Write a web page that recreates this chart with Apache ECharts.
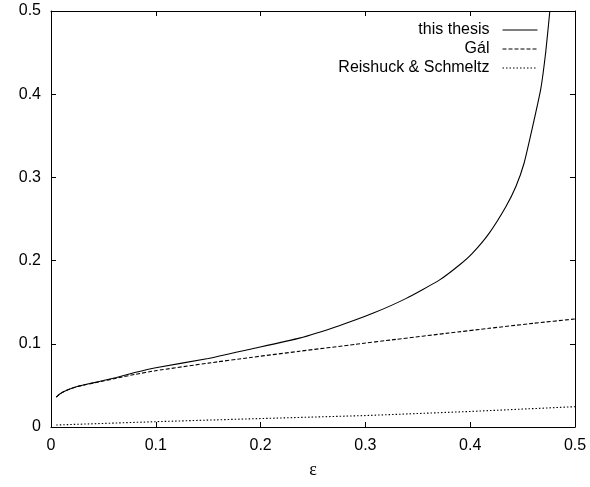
<!DOCTYPE html>
<html>
<head>
<meta charset="utf-8">
<script src="https://cdn.jsdelivr.net/npm/echarts@6/dist/echarts.min.js"></script>
<style>html,body{margin:0;padding:0;background:#fff}#c{width:590px;height:487px}</style>
</head>
<body>
<div id="c"></div>
<script>
var seriesNames = ['this thesis', 'Gál', 'Reishuck & Schmeltz'];
var xTicks = [0, 0.1, 0.2, 0.3, 0.4, 0.5];
var yTicks = [0, 0.1, 0.2, 0.3, 0.4, 0.5];
var xName = 'ε';

var thesisX = [0.005, 0.008, 0.012, 0.018, 0.025, 0.032, 0.040, 0.050, 0.0625, 0.080, 0.100, 0.150, 0.190, 0.237, 0.275, 0.307, 0.339, 0.3705, 0.390, 0.402, 0.418, 0.434, 0.4435, 0.4514, 0.4594, 0.4673, 0.4721, 0.476];
var thesisY = [0.036, 0.0393, 0.0425, 0.0457, 0.0486, 0.0508, 0.0530, 0.0558, 0.0596, 0.0655, 0.0713, 0.0823, 0.0935, 0.1068, 0.1218, 0.1366, 0.1546, 0.1765, 0.195, 0.2087, 0.2328, 0.2648, 0.2888, 0.317, 0.360, 0.406, 0.451, 0.500];

var galX = [0.005, 0.008, 0.012, 0.018, 0.025, 0.032, 0.040, 0.050, 0.0625, 0.080, 0.100, 0.150, 0.190, 0.237, 0.290, 0.329, 0.380, 0.418, 0.460, 0.500];
var galY = [0.036, 0.0393, 0.0425, 0.0457, 0.0485, 0.0506, 0.0527, 0.0553, 0.0586, 0.0632, 0.0677, 0.0768, 0.0835, 0.0910, 0.0993, 0.1053, 0.1130, 0.1186, 0.1246, 0.1298];

var rsX = [0.005, 0.100, 0.190, 0.299, 0.399, 0.500];
var rsY = [0.0024, 0.0064, 0.0098, 0.0137, 0.0186, 0.0244];

function pairs(xs, ys) { return xs.map(function (x, i) { return [x, ys[i]]; }); }

var chart = echarts.init(document.getElementById('c'), null, {renderer: 'canvas'});
var font = 'Liberation Sans, Arial, Helvetica, sans-serif';
var axisCommon = {
  type: 'value', min: 0, max: 0.5, interval: 0.1,
  axisLine: {show: true, onZero: false, lineStyle: {color: '#000', width: 1}},
  axisTick: {show: true, inside: true, length: 5, lineStyle: {color: '#000'}},
  splitLine: {show: false}
};
var option = {
  backgroundColor: '#fff',
  animation: false,
  grid: {left: 51, right: 15, top: 11, bottom: 60, containLabel: false},
  legend: {
    data: seriesNames,
    orient: 'vertical',
    align: 'right',
    right: 52, top: 22, padding: 0,
    itemWidth: 35, itemHeight: 14, itemGap: 3,
    itemStyle: {opacity: 0},
    lineStyle: {width: 1},
    textStyle: {fontFamily: font, fontSize: 16, color: '#000', padding: [0, 8, 0, 0]},
    selectedMode: false
  },
  xAxis: [
    Object.assign({}, axisCommon, {
      position: 'bottom',
      axisLabel: {fontFamily: font, fontSize: 16, color: '#000', margin: 11,
        formatter: function (v) { return String(+v.toFixed(1)); }},
      name: xName, nameLocation: 'middle', nameGap: 34,
      nameTextStyle: {fontFamily: 'Liberation Serif, DejaVu Serif, serif', fontSize: 18, color: '#000'}
    }),
    Object.assign({}, axisCommon, {position: 'top', axisLabel: {show: false}})
  ],
  yAxis: [
    Object.assign({}, axisCommon, {
      position: 'left',
      axisLabel: {fontFamily: font, fontSize: 16, color: '#000', margin: 10,
        formatter: function (v) { return String(+v.toFixed(1)); }}
    }),
    Object.assign({}, axisCommon, {position: 'right', axisLabel: {show: false}})
  ],
  series: [
    {name: seriesNames[0], type: 'line', data: pairs(thesisX, thesisY), symbol: 'none', smooth: 0.15,
      lineStyle: {color: '#000', width: 1.1, type: 'solid'}, itemStyle: {color: '#000'}, clip: true},
    {name: seriesNames[1], type: 'line', data: pairs(galX, galY), symbol: 'none', smooth: 0.15,
      lineStyle: {color: '#000', width: 1.1, type: [4, 2]}, itemStyle: {color: '#000'}, clip: true},
    {name: seriesNames[2], type: 'line', data: pairs(rsX, rsY), symbol: 'none', smooth: false,
      lineStyle: {color: '#000', width: 1.1, type: [1.5, 2]}, itemStyle: {color: '#000'}, clip: true}
  ]
};
chart.setOption(option);
</script>
</body>
</html>
